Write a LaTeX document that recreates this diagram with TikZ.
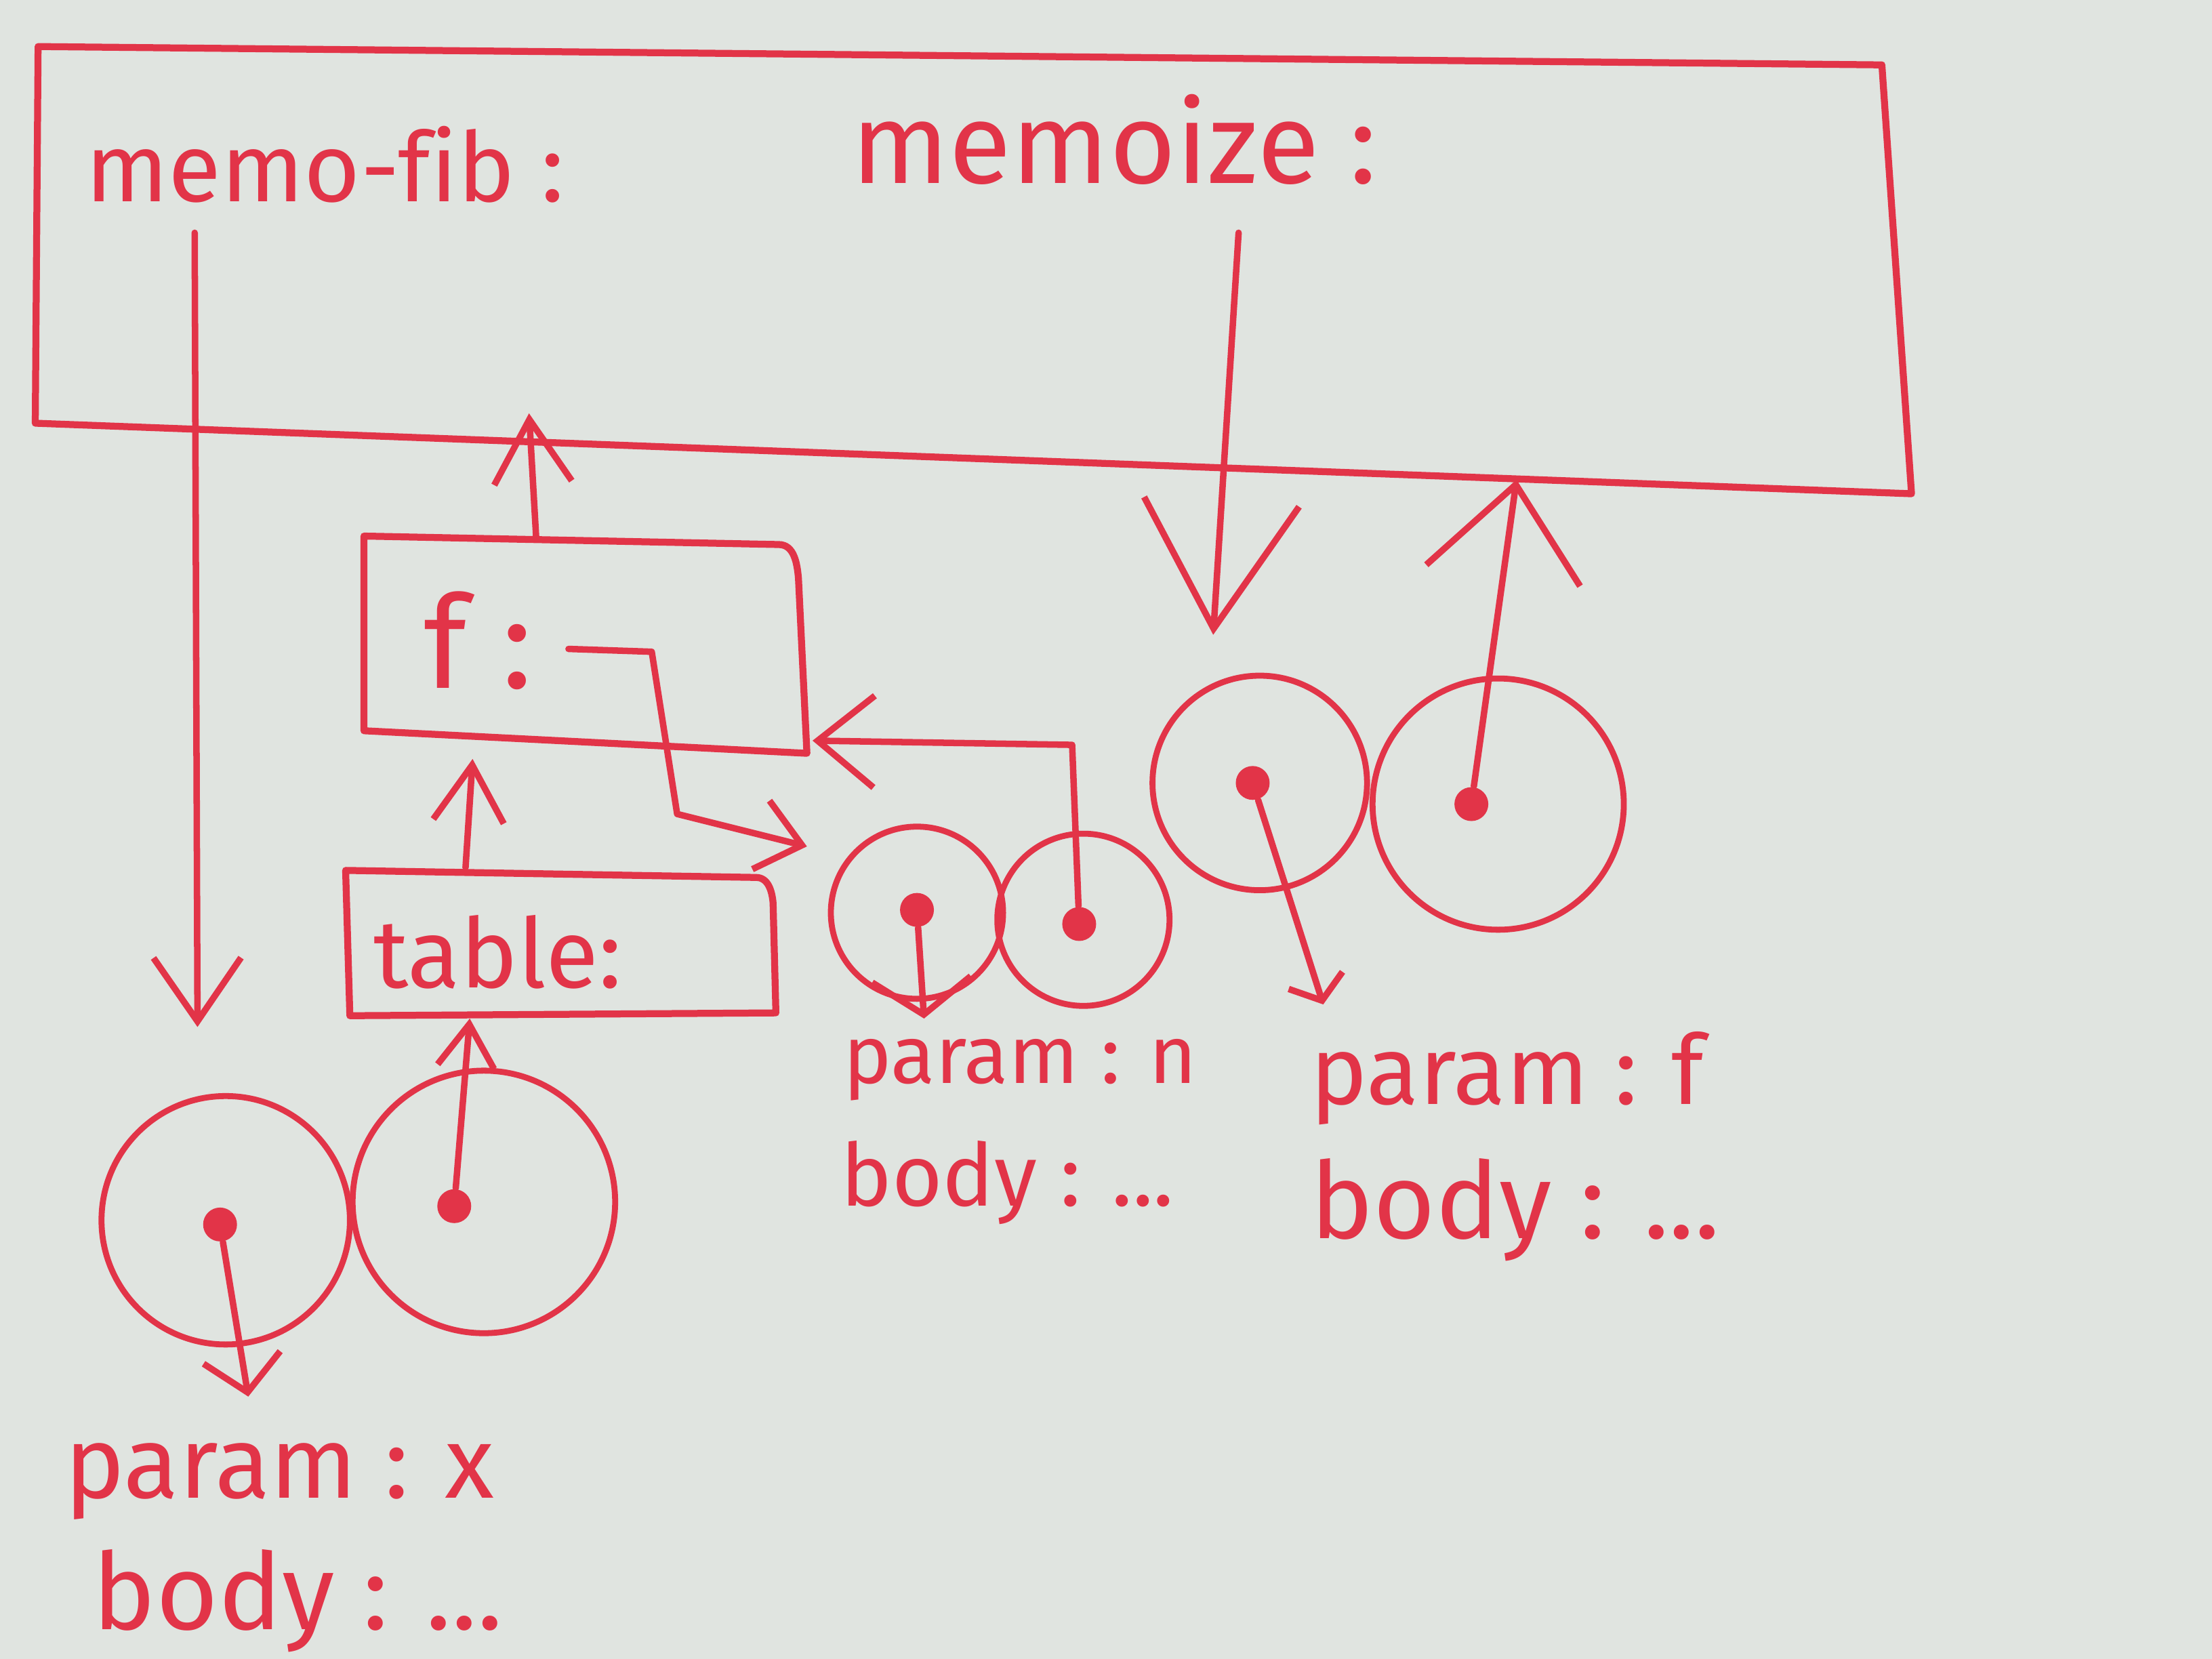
\documentclass[tikz,border=0pt]{standalone}
\usepackage{fontspec}
\setmainfont[Ligatures=CommonOff]{Fira Sans}
\usetikzlibrary{arrows.meta}
\definecolor{ink}{RGB}{226,52,72}
\definecolor{board}{RGB}{224,228,224}
\begin{document}
\begin{tikzpicture}[x=0.01cm,y=-0.01cm,
  frameline/.style={draw=ink, line width=1.4pt, line join=round},
  ring/.style={circle, draw=ink, line width=1.2pt, inner sep=0pt},
  dotn/.style={circle, fill=ink, inner sep=0pt, minimum size=0.24cm},
  ptr/.style={draw=ink, line width=1.3pt, line cap=round, line join=round},
  lbl/.style={text=ink, anchor=base west, inner sep=0pt},
  fs/.style={font=\fontsize{#1}{#1}\selectfont},
]
\fill[board] (0,0) rectangle (1568,1176);
\useasboundingbox (0,0) rectangle (1568,1176);

% global frame
\coordinate (gTL) at (27,33);
\coordinate (gTR) at (1334,46);
\coordinate (gBR) at (1355,350);
\coordinate (gBL) at (25,300);
\draw[frameline] (gTL) -- (gTR) -- (gBR) -- (gBL) -- cycle;

% f frame
\coordinate (fTL) at (258,380);
\coordinate (fTR) at (552,386);
\coordinate (fBR) at (572,534);
\coordinate (fBL) at (258,518);
\draw[frameline] (fTL) -- (fTR) to[out=0,in=95] (566,410) -- (fBR) -- (fBL) -- cycle;

% table frame
\coordinate (tTL) at (245,617);
\coordinate (tTR) at (536,622);
\coordinate (tBR) at (550,718);
\coordinate (tBL) at (248,720);
\draw[frameline] (tTL) -- (tTR) to[out=0,in=95] (548,640) -- (tBR) -- (tBL) -- cycle;

% labels
\node[lbl, fs=19.5] (tmemofib) at (60,143) {memo-fib :};
\node[lbl, fs=23] (tmemoize) at (603,130) {memoize :};
\node[lbl, fs=26] (tf) at (300,488) {f :};
\node[lbl, fs=19.5] (ttable) at (264,700) {table:};

\node[lbl, fs=20.5] (px) at (45,1062) {param : x};
\node[lbl, fs=21.5] (bx) at (65,1155) {body : ...};
\node[lbl, fs=16.5] (pn) at (597,768) {param : n};
\node[lbl, fs=17.5] (bn) at (595,855) {body : ...};
\node[lbl, fs=19.5] (pf) at (928,783) {param : f};
\node[lbl, fs=21.5] (bf) at (928,878) {body : ...};

% circles
\node[ring, minimum size=1.76cm] (c1) at (160,865) {};
\node[ring, minimum size=1.86cm] (c2) at (343,852) {};
\node[ring, minimum size=1.22cm] (m1) at (650,647) {};
\node[ring, minimum size=1.22cm] (m2) at (768,652) {};
\node[ring, minimum size=1.52cm] (r1) at (893,555) {};
\node[ring, minimum size=1.78cm] (r2) at (1062,570) {};

% dots
\node[dotn] (d1) at (156,868) {};
\node[dotn] (d2) at (322,855) {};
\node[dotn] (e1) at (650,645) {};
\node[dotn] (e2) at (765,655) {};
\node[dotn] (f1) at (888,555) {};
\node[dotn] (f2) at (1043,570) {};

% arrow end coordinates
\coordinate (mfsrc) at (138,165);
\coordinate (mfend) at (140,728);
\coordinate (mzsrc) at (878,165);
\coordinate (mzend) at (860,450);
\coordinate (xend) at (176,990);
\coordinate (tbot) at (333,722);
\coordinate (ttop) at (330,615);
\coordinate (fbot) at (335,538);
\coordinate (ftop) at (380,380);
\coordinate (gbot1) at (375,293);
\coordinate (fptr) at (403,460);
\coordinate (fptrend) at (572,600);
\coordinate (fside) at (576,525);
\coordinate (nend) at (655,722);
\coordinate (fparend) at (938,712);
\coordinate (gbot2) at (1075,340);

% connectors
\draw[ptr, -{Straight Barb[length=0.45cm,width=0.62cm]}] (mfsrc) -- (mfend);
\draw[ptr, -{Straight Barb[length=0.9cm,width=1.1cm]}] (mzsrc) -- (mzend);
\draw[ptr, -{Straight Barb[length=0.25cm,width=0.55cm]}] (d1) -- (xend);
\draw[ptr, -{Straight Barb[length=0.3cm,width=0.4cm]}] (d2) -- (tbot);
\draw[ptr, -{Straight Barb[length=0.4cm,width=0.5cm]}] (ttop) -- (fbot);
\draw[ptr, -{Straight Barb[length=0.45cm,width=0.55cm]}] (ftop) -- (gbot1);
\draw[ptr, -{Straight Barb[length=0.3cm,width=0.5cm]}] (fptr) -- (462,462) -- (480,577) -- (fptrend);
\draw[ptr, -{Straight Barb[length=0.4cm,width=0.65cm]}] (e2) -- (760,528) -- (fside);
\draw[ptr, -{Straight Barb[length=0.25cm,width=0.7cm]}] (e1) -- (nend);
\draw[ptr, -{Straight Barb[length=0.15cm,width=0.4cm]}] (f1) -- (fparend);
\draw[ptr, -{Straight Barb[length=0.65cm,width=1.1cm]}] (f2) -- (gbot2);
\end{tikzpicture}
\end{document}
